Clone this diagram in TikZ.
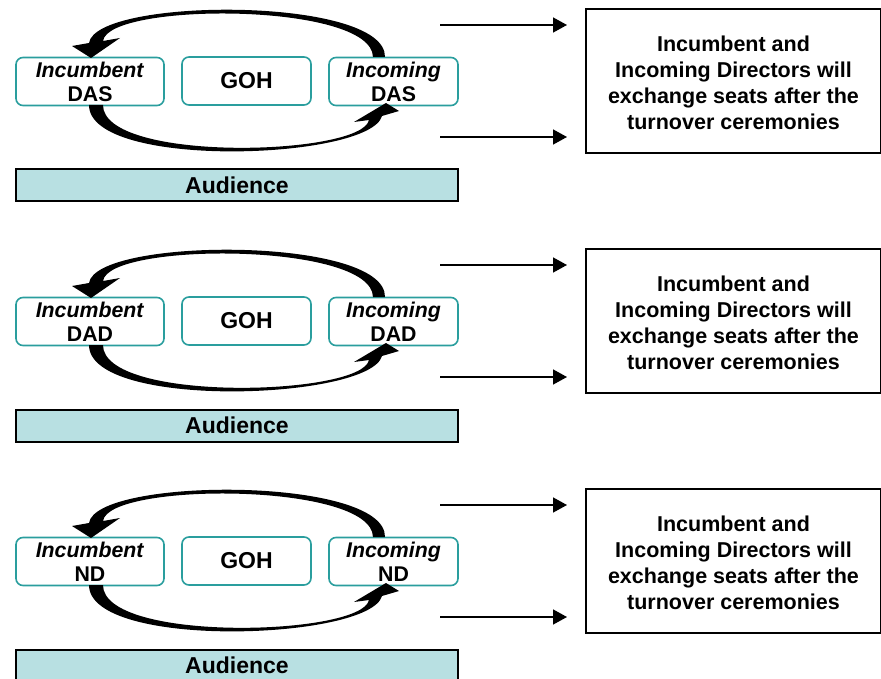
\documentclass[tikz,border=0pt]{standalone}
\usepackage{fontspec}
\setmainfont{Liberation Sans}
\usetikzlibrary{arrows.meta}
\definecolor{tealb}{HTML}{2A9E9E}
\definecolor{audfill}{HTML}{B8E0E2}
\tikzset{
  seat/.style={draw=tealb, line width=1.6pt, rounded corners=7pt, fill=white,
    minimum height=48pt, align=center, inner sep=0pt,
    font=\bfseries\fontsize{21.3}{24}\selectfont},
  audbox/.style={draw=black, line width=2pt, fill=audfill, minimum width=442pt,
    minimum height=32pt, inner sep=0pt, font=\bfseries\fontsize{23}{26}\selectfont},
  notebox/.style={draw=black, line width=1.3pt, minimum width=295pt, minimum height=144pt,
    align=center, inner sep=0pt, font=\bfseries\fontsize{21.5}{26}\selectfont},
  pointer/.style={line width=1.5pt, -{Triangle[length=14pt,width=15pt]}},
  swap/.style={fill=black, draw=none}
}
\begin{document}
\begin{tikzpicture}[x=1pt,y=-1pt]
\useasboundingbox (0,0) rectangle (881,679);
\foreach \i/\lbl/\off in {1/DAS/0,2/DAD/240,3/ND/480}{
\begin{scope}[yshift=-\off pt]
  \node[seat, minimum width=148pt] (inc\i) at (90,81.5) {\textit{Incumbent}\\\lbl};
  \node[seat, minimum width=129pt, font=\bfseries\fontsize{23}{26}\selectfont] (goh\i) at (246.5,81) {GOH};
  \node[seat, minimum width=129pt] (new\i) at (393.5,81.5) {\textit{Incoming}\\\lbl};
  \node[audbox] (aud\i) at (237,185.5) {Audience};
  \node[notebox] (note\i) at (733.5,81) {};
  \node[align=center, inner sep=0pt, font=\bfseries\fontsize{21.5}{26}\selectfont] (txt\i) at (733.5,83)
    {Incumbent and\\Incoming Directors will\\exchange seats after the\\turnover ceremonies};
  % top curved arrow (Incoming -> Incumbent)
  \fill[swap] (385,57) .. controls (386,-4) and (96,-3) .. (89,43)
     -- (72,46) -- (91,58) -- (120,38) -- (103,41)
     .. controls (108,2) and (372,2) .. (373,57) -- cycle;
  % bottom curved arrow (Incumbent -> Incoming)
  \fill[swap] (89,105) .. controls (89,170) and (370,160) .. (382,116)
     -- (399,111) -- (386,103) -- (354,122) -- (369,120)
     .. controls (362,156) and (103,163) .. (103,105) -- cycle;
  \coordinate (p\i) at (440,25);
  \coordinate (q\i) at (567,25);
  \coordinate (r\i) at (440,137);
  \coordinate (s\i) at (567,137);
  \draw[pointer] (p\i) -- (q\i);
  \draw[pointer] (r\i) -- (s\i);
\end{scope}
}
\end{tikzpicture}
\end{document}
